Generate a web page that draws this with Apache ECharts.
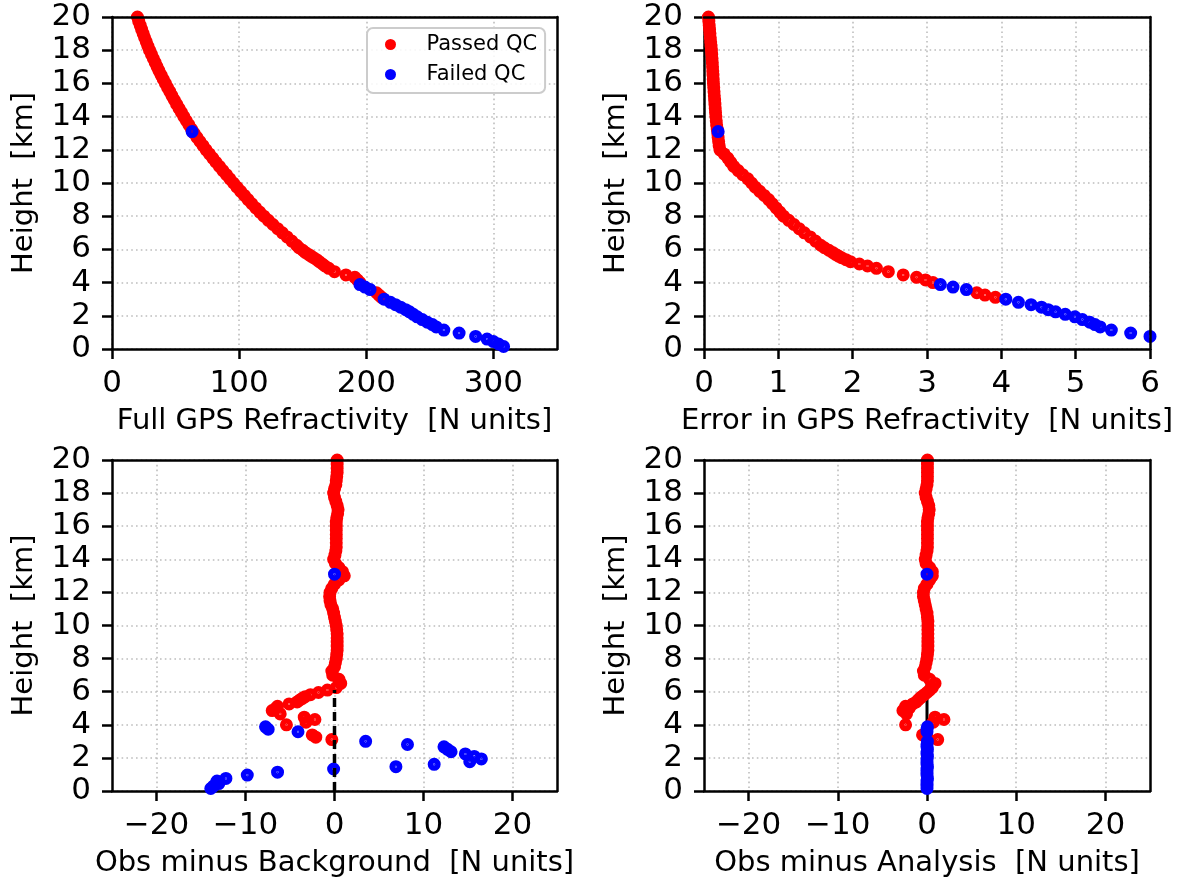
<!DOCTYPE html>
<html>
<head>
<meta charset="utf-8">
<script src="https://cdn.jsdelivr.net/npm/echarts@6/dist/echarts.min.js"></script>
<style>
html,body{margin:0;padding:0;background:#fff;}
#chart{width:1181px;height:879px;}
</style>
</head>
<body>
<div id="chart"></div>
<script>
// ---- Data (heights in km) ----
// Dense upper part of the profile (passed QC)
const hUpper = [20, 19.75, 19.5, 19.25, 19, 18.75, 18.5, 18.25, 18, 17.75, 17.5, 17.25, 17, 16.75, 16.5, 16.25,
  16, 15.75, 15.5, 15.25, 15, 14.75, 14.5, 14.25, 14, 13.75, 13.5, 13.25, 13, 12.75, 12.5, 12.25,
  12, 11.75, 11.5, 11.25, 11, 10.75, 10.5, 10.25, 10, 9.75, 9.5, 9.25, 9, 8.75, 8.5, 8.25,
  8, 7.75, 7.5, 7.25, 7, 6.75, 6.5, 6.25];
const nUpper = [20, 21, 22.2, 23.3, 24.5, 25.7, 27, 28.2, 29.5, 31, 32.5, 34, 35.5, 37, 38.6, 40.3,
  42, 43.7, 45.5, 47.2, 49, 50.8, 52.7, 54.6, 56.5, 58.5, 60.5, 62.5, 64.5, 66.8, 69.2, 71.6,
  74, 76.6, 79.2, 81.8, 84.5, 87.2, 90, 92.7, 95.5, 98.3, 101.2, 104.1, 107, 110, 113, 116.2,
  119.5, 123, 126.6, 130.3, 134, 137.7, 141.4, 145.2];
const errUpper = [0.06, 0.065, 0.07, 0.075, 0.08, 0.085, 0.09, 0.095, 0.10, 0.104, 0.108, 0.112, 0.115, 0.118, 0.121, 0.124,
  0.127, 0.131, 0.135, 0.139, 0.143, 0.147, 0.151, 0.155, 0.16, 0.165, 0.17, 0.178, 0.185, 0.19, 0.197, 0.204,
  0.215, 0.27, 0.32, 0.36, 0.40, 0.46, 0.52, 0.59, 0.64, 0.69, 0.75, 0.81, 0.87, 0.92, 0.97, 1.02,
  1.07, 1.14, 1.21, 1.28, 1.35, 1.43, 1.50, 1.57];
const ombUpper = [0.3, 0.3, 0.3, 0.3, 0.25, 0.2, 0.15, 0.0, -0.1, 0.0, 0.15, 0.3, 0.4, 0.35, 0.25, 0.2,
  0.2, 0.2, 0.2, 0.2, 0.2, 0.2, 0.15, 0.05, -0.1, 0.1, 0.5, 0.9, 1.1, 0.5, 0.0, -0.3,
  -0.5, -0.55, -0.5, -0.4, -0.2, -0.1, 0.0, 0.1, 0.2, 0.25, 0.3, 0.3, 0.3, 0.3, 0.3, 0.25,
  0.2, 0.1, 0.0, -0.3, -0.2, 0.5, 0.7, 0.2];
const omaUpper = [0.05, 0.05, 0.05, 0.05, 0.05, 0.05, 0.0, -0.1, -0.2, -0.1, 0.05, 0.2, 0.25, 0.2, 0.1, 0.05,
  0.05, 0.05, 0.05, 0.05, 0.05, 0.05, 0.0, -0.1, -0.2, -0.1, 0.3, 0.6, 0.6, 0.3, 0.0, -0.3,
  -0.4, -0.4, -0.3, -0.2, -0.1, 0.0, 0.05, 0.1, 0.1, 0.1, 0.1, 0.1, 0.1, 0.1, 0.1, 0.05,
  0.0, -0.1, -0.2, -0.4, -0.3, 0.3, 0.9, 0.6];

// Lower, sparser passed-QC observations
const hLower = [6.1, 5.95, 5.82, 5.7, 5.6, 5.5, 5.38, 5.26, 5.12, 5.0, 4.86, 4.66, 4.46, 4.32, 4.16, 4.0, 3.39, 3.25, 3.11];
const nLower = [147, 150, 152, 154.5, 156.5, 158.5, 161, 163, 165.5, 167.5, 170.5, 175, 184, 191, 193, 195, 208, 210, 212];
const errLower = [1.62, 1.68, 1.73, 1.77, 1.81, 1.85, 1.91, 1.97, 2.09, 2.20, 2.32, 2.48, 2.68, 2.86, 2.98, 3.08, 3.67, 3.78, 3.92];
const ombLower = [-0.8, -1.8, -2.7, -3.3, -3.6, -3.9, -4.2, -5.1, -6.4, -6.6, -7.0, -6.1, -3.4, -2.2, -3.2, -5.4, -2.5, -2.1, -0.3];
const omaLower = [0.3, 0.0, -0.3, -0.6, -0.8, -1.0, -1.2, -1.6, -2.4, -2.0, -2.7, -2.3, 0.9, 1.9, 0.7, -2.4, -0.5, 0.0, 1.2];

// Failed-QC observations
const hFail = [13.1, 3.88, 3.73, 3.58, 3.0, 2.81, 2.67, 2.52, 2.37, 2.24, 2.09, 1.94, 1.77, 1.61, 1.47, 1.33, 1.14, 0.96, 0.76, 0.6, 0.45, 0.3, 0.15];
const nFail = [63, 195, 199, 203, 214, 219, 223, 227, 231, 234, 237, 240, 244, 248, 252, 255, 261, 273, 286, 295, 300, 304, 308];
const errFail = [0.19, 3.18, 3.35, 3.53, 4.06, 4.23, 4.40, 4.54, 4.63, 4.73, 4.86, 4.99, 5.09, 5.19, 5.26, 5.33, 5.48, 5.74, 6.0, 6.3, 6.6, 6.9, 7.2];
const ombFail = [0.0, -7.75, -7.45, -4.1, 3.5, 8.2, 12.3, 12.7, 13.1, 14.7, 15.7, 16.5, 15.2, 11.2, 6.9, -0.1, -6.4, -9.8, -12.2, -13.2, -13.0, -13.6, -13.9];
const omaFail = [0, 0.05, 0, 0, 0.05, 0, 0, 0.05, 0, 0, 0.05, 0, 0, 0, 0.05, 0, 0, 0, 0.05, 0, 0, 0, 0];

// Reference zero lines (height extents, km)
const zeroLineOB = [0, 6.1];
const zeroLineOA = [0, 6.5];

// Axis ticks
const refrTicks = [0, 100, 200, 300];
const errTicks = [0, 1, 2, 3, 4, 5, 6];
const departTicks = [-20, -10, 0, 10, 20];

// Labels
const yName = 'Height  [km]';
const xNames = ['Full GPS Refractivity  [N units]', 'Error in GPS Refractivity  [N units]',
  'Obs minus Background  [N units]', 'Obs minus Analysis  [N units]'];

// ---- Build ----
const FONT = 'DejaVu Sans';
const TICKFS = 31, NAMEFS = 29;
const RED = '#ff0000', BLUE = '#0000ff';
const MS = 13;
// filled disc with a thin light ring inside (matplotlib-like marker look)
const MARK = 'path://M0 50A50 50 0 1 1 100 50A50 50 0 1 1 0 50Z' +
  'M58 50A8 8 0 1 0 42 50A8 8 0 1 0 58 50Z' +
  'M50 44A6 6 0 1 1 50 56A6 6 0 1 1 50 44Z';

function pairs(xs, hs) { return hs.map((h, i) => [xs[i], h]); }

const gridBoxes = [
  {left: 112, top: 17, width: 445, height: 332},
  {left: 704, top: 17, width: 446, height: 332},
  {left: 112, top: 460, width: 445, height: 331},
  {left: 704, top: 460, width: 446, height: 331}
];
const grids = gridBoxes.map(g => Object.assign({show: true, borderWidth: 0, backgroundColor: '#fff'}, g));

const splitStyle = {show: true, lineStyle: {color: '#bdbdbd', width: 1.6, type: [1.6, 3.2]}};
const blackLine = {show: true, onZero: false, lineStyle: {color: '#000', width: 2.5}};
function minusFmt(v) { return String(v).replace('-', '\u2212'); }

const xRanges = [[0, 350, refrTicks], [0, 6, errTicks], [-25, 25, departTicks], [-25, 25, departTicks]];

function xAxisCfg(i) {
  const r = xRanges[i];
  return {
    gridIndex: i, type: 'value', min: r[0], max: r[1], position: 'bottom',
    axisLine: blackLine,
    axisTick: {show: true, inside: false, length: 10, customValues: r[2], lineStyle: {color: '#000', width: 2.5}},
    axisLabel: {show: true, customValues: r[2], margin: 19, color: '#000', fontSize: TICKFS, fontFamily: FONT, formatter: minusFmt},
    splitLine: splitStyle,
    name: xNames[i], nameLocation: 'middle', nameGap: 58,
    nameTextStyle: {color: '#000', fontSize: NAMEFS, fontFamily: FONT, verticalAlign: 'top'}
  };
}
function xBorderCfg(i) {
  const r = xRanges[i];
  return {gridIndex: i, type: 'value', min: r[0], max: r[1], position: 'top', z: 10,
    axisLine: blackLine, axisTick: {show: false}, axisLabel: {show: false}, splitLine: {show: false}};
}
function yAxisCfg(i) {
  return {
    gridIndex: i, type: 'value', min: 0, max: 20, interval: 2, position: 'left',
    axisLine: blackLine,
    axisTick: {show: true, inside: false, length: 10, lineStyle: {color: '#000', width: 2.5}},
    axisLabel: {show: true, margin: 21, color: '#000', fontSize: TICKFS, fontFamily: FONT},
    splitLine: splitStyle,
    name: yName, nameLocation: 'middle', nameGap: 73, nameRotate: 90,
    nameTextStyle: {color: '#000', fontSize: NAMEFS, fontFamily: FONT}
  };
}
function yBorderCfg(i) {
  return {gridIndex: i, type: 'value', min: 0, max: 20, interval: 2, position: 'right', z: 10,
    axisLine: blackLine, axisTick: {show: false}, axisLabel: {show: false}, splitLine: {show: false}};
}

const passedX = [nUpper.concat(nLower), errUpper.concat(errLower), ombUpper.concat(ombLower), omaUpper.concat(omaLower)];
const failedX = [nFail, errFail, ombFail, omaFail];
const hPassed = hUpper.concat(hLower);

const series = [];
// zero line under markers for O-A
series.push({type: 'line', xAxisIndex: 3, yAxisIndex: 3, data: zeroLineOA.map(h => [0, h]), symbol: 'none',
  lineStyle: {color: '#000', width: 3}, z: 1, silent: true});
for (let i = 0; i < 4; i++) {
  series.push({name: 'Passed QC', type: 'scatter', xAxisIndex: i, yAxisIndex: i, data: pairs(passedX[i], hPassed),
    symbol: MARK, symbolSize: MS, itemStyle: {color: RED, opacity: 1}, z: 2});
  series.push({name: 'Failed QC', type: 'scatter', xAxisIndex: i, yAxisIndex: i, data: pairs(failedX[i], hFail),
    symbol: MARK, symbolSize: MS, itemStyle: {color: BLUE, opacity: 1}, z: 3});
}
series.push({type: 'line', xAxisIndex: 2, yAxisIndex: 2, data: zeroLineOB.map(h => [0, h]), symbol: 'none',
  lineStyle: {color: '#000', width: 3.5, type: [9, 5]}, z: 4, silent: true});

const option = {
  animation: false,
  backgroundColor: '#fff',
  grid: grids,
  xAxis: [0, 1, 2, 3].map(xAxisCfg).concat([0, 1, 2, 3].map(xBorderCfg)),
  yAxis: [0, 1, 2, 3].map(yAxisCfg).concat([0, 1, 2, 3].map(yBorderCfg)),
  legend: {
    show: true, orient: 'vertical', left: 367, top: 28,
    data: ['Passed QC', 'Failed QC'],
    icon: 'circle', itemWidth: 22, itemHeight: 11, itemGap: 9,
    padding: [6, 8, 8, 18],
    backgroundColor: 'rgba(255,255,255,0.85)', borderColor: '#cccccc', borderWidth: 2, borderRadius: 6,
    textStyle: {color: '#000', fontSize: 21, fontFamily: FONT, lineHeight: 21, padding: [0, 0, 0, 20]},
    selectedMode: false
  },
  series: series
};

const chart = echarts.init(document.getElementById('chart'), null, {renderer: 'canvas'});
chart.setOption(option);
</script>
</body>
</html>
